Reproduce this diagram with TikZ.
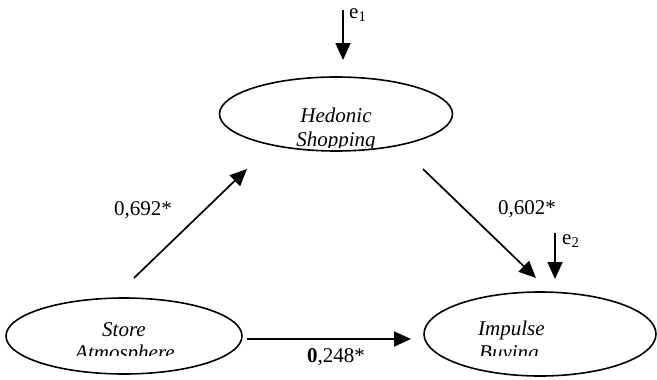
\documentclass[tikz,border=0pt]{standalone}
\usepackage{fontspec}
\setmainfont{Liberation Serif}
\usetikzlibrary{shapes.geometric,arrows.meta}

\begin{document}
\begin{tikzpicture}[x=1pt,y=1pt,yscale=-1,xscale=1,
  latent/.style={draw, ellipse, line width=1.6pt, inner sep=0pt},
  arr/.style={line width=1.7pt, -{Triangle[length=17pt,width=15pt]}},
  lbl/.style={font=\fontsize{21}{24}\selectfont, inner sep=0pt},
  vartext/.style={inner sep=0pt, font=\fontsize{21}{24}\selectfont\itshape}]
\useasboundingbox (0,0) rectangle (657,380);

%Ellipses
\node [latent, minimum width=233pt, minimum height=74pt] (hedonic) at (336,114) {};
\node [latent, minimum width=236pt, minimum height=76pt] (store) at (124,336) {};
\node [latent, minimum width=232pt, minimum height=84pt] (impulse) at (540,334) {};

%Text in ellipses (second line cut off)
\node [vartext, anchor=base] (hedonic1) at (336,122) {Hedonic};
\begin{scope}
\clip (240,125) rectangle (430,147);
\node [vartext, anchor=base] (hedonic2) at (336,146) {Shopping};
\end{scope}
\node [vartext, anchor=base] (store1) at (124,336) {Store};
\begin{scope}
\clip (30,340) rectangle (220,355);
\node [vartext, anchor=base] (store2) at (125,359) {Atmosphere};
\end{scope}
\node [vartext, anchor=base west] (impulse1) at (478,335) {Impulse};
\begin{scope}
\clip (440,340) rectangle (630,355);
\node [vartext, anchor=base west] (impulse2) at (479,359) {Buying};
\end{scope}

%Arrow ends
\coordinate (e1top) at (343,10);
\coordinate (e1tip) at (343,60);
\coordinate (e2top) at (555,233);
\coordinate (e2tip) at (555,279);
\coordinate (sh0) at (134,278);
\coordinate (sh1) at (247,169);
\coordinate (hi0) at (423,169);
\coordinate (hi1) at (536,278);
\coordinate (si0) at (247,339);
\coordinate (si1) at (411,339);

%Arrows
\draw [arr] (e1top) -- (e1tip);
\draw [arr] (e2top) -- (e2tip);
\draw [arr] (sh0) -- (sh1);
\draw [arr] (hi0) -- (hi1);
\draw [arr] (si0) -- (si1);

%Labels
\node [lbl, anchor=base west] (e1) at (349,18) {e\textsubscript{1}};
\node [lbl, anchor=base west] (e2) at (562,244) {e\textsubscript{2}};
\node [lbl, anchor=base west] (b1) at (114,215) {0,692*};
\node [lbl, anchor=base west] (b2) at (498,214) {0,602*};
\node [lbl, anchor=base west] (b3) at (307,362) {\textbf{0},248*};

\end{tikzpicture}
\end{document}
